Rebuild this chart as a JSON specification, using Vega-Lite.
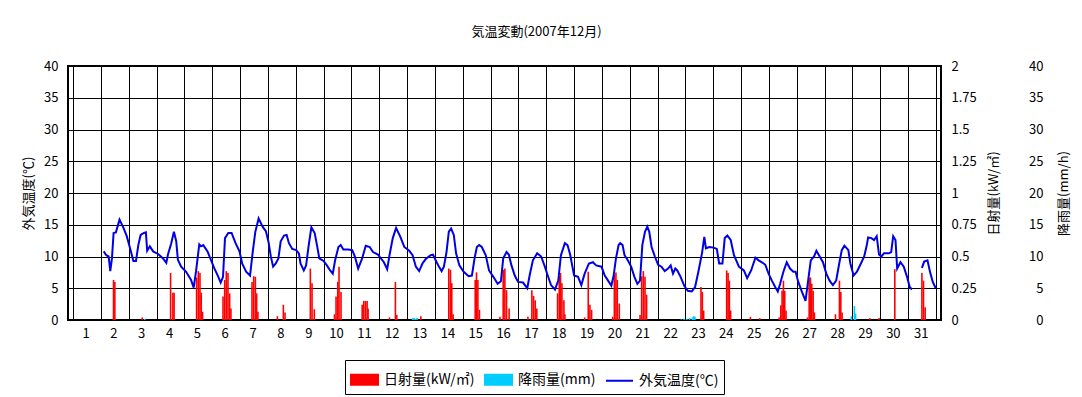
{
  "$schema": "https://vega.github.io/schema/vega-lite/v6.json",
  "width": 873,
  "height": 254,
  "autosize": "none",
  "padding": {"left": 68, "top": 66, "right": 141, "bottom": 77},
  "background": "white",
  "title": {"text": "気温変動(2007年12月)", "fontSize": 13, "fontWeight": "normal", "font": "Noto Sans CJK JP", "color": "black", "offset": 21, "dx": 32},
  "datasets": {
    "temp": [
      {"t":1.102,"T":10.8,"seg":1},{"t":1.197,"T":10.2,"seg":1},{"t":1.280,"T":10.0,"seg":1},{"t":1.339,"T":7.7,"seg":1},{"t":1.399,"T":9.7,"seg":1},{"t":1.458,"T":13.7,"seg":1},{"t":1.541,"T":13.8,"seg":1},{"t":1.671,"T":15.8,"seg":1},{"t":1.813,"T":14.5,"seg":1},{"t":1.931,"T":13.2,"seg":1},
      {"t":2.050,"T":11.3,"seg":1},{"t":2.168,"T":9.3,"seg":1},{"t":2.263,"T":9.3,"seg":1},{"t":2.346,"T":11.8,"seg":1},{"t":2.429,"T":13.4,"seg":1},{"t":2.547,"T":13.7,"seg":1},{"t":2.618,"T":13.8,"seg":1},{"t":2.665,"T":10.9,"seg":1},{"t":2.760,"T":11.6,"seg":1},{"t":2.879,"T":10.8,"seg":1},
      {"t":3.056,"T":10.4,"seg":1},{"t":3.234,"T":9.7,"seg":1},{"t":3.352,"T":9.0,"seg":1},{"t":3.411,"T":10.3,"seg":1},{"t":3.530,"T":12.1,"seg":1},{"t":3.625,"T":13.9,"seg":1},{"t":3.708,"T":12.4,"seg":1},{"t":3.767,"T":9.5,"seg":1},{"t":3.885,"T":8.4,"seg":1},
      {"t":4.063,"T":7.6,"seg":1},{"t":4.241,"T":6.3,"seg":1},{"t":4.335,"T":5.1,"seg":1},{"t":4.418,"T":7.6,"seg":1},{"t":4.536,"T":11.9,"seg":1},{"t":4.596,"T":11.6,"seg":1},{"t":4.679,"T":11.8,"seg":1},{"t":4.832,"T":10.8,"seg":1},{"t":4.951,"T":9.5,"seg":1},
      {"t":5.069,"T":8.2,"seg":1},{"t":5.188,"T":7.1,"seg":1},{"t":5.306,"T":5.9,"seg":1},{"t":5.389,"T":6.8,"seg":1},{"t":5.460,"T":12.9,"seg":1},{"t":5.578,"T":13.7,"seg":1},{"t":5.697,"T":13.7,"seg":1},{"t":5.839,"T":12.1,"seg":1},{"t":5.981,"T":10.8,"seg":1},
      {"t":6.076,"T":8.9,"seg":1},{"t":6.218,"T":7.6,"seg":1},{"t":6.360,"T":7.0,"seg":1},{"t":6.455,"T":10.7,"seg":1},{"t":6.550,"T":13.9,"seg":1},{"t":6.668,"T":16.0,"seg":1},{"t":6.810,"T":14.7,"seg":1},{"t":6.928,"T":14.0,"seg":1},
      {"t":7.023,"T":12.3,"seg":1},{"t":7.106,"T":10.0,"seg":1},{"t":7.189,"T":8.4,"seg":1},{"t":7.284,"T":8.9,"seg":1},{"t":7.378,"T":9.7,"seg":1},{"t":7.461,"T":12.4,"seg":1},{"t":7.580,"T":13.3,"seg":1},{"t":7.674,"T":13.4,"seg":1},{"t":7.757,"T":12.1,"seg":1},{"t":7.876,"T":11.2,"seg":1},
      {"t":8.018,"T":11.0,"seg":1},{"t":8.113,"T":10.5,"seg":1},{"t":8.172,"T":8.9,"seg":1},{"t":8.290,"T":7.8,"seg":1},{"t":8.373,"T":8.6,"seg":1},{"t":8.468,"T":11.8,"seg":1},{"t":8.562,"T":14.6,"seg":1},{"t":8.681,"T":13.7,"seg":1},{"t":8.764,"T":11.8,"seg":1},{"t":8.847,"T":9.7,"seg":1},
      {"t":9.001,"T":9.3,"seg":1},{"t":9.119,"T":8.6,"seg":1},{"t":9.237,"T":7.8,"seg":1},{"t":9.332,"T":7.3,"seg":1},{"t":9.415,"T":9.4,"seg":1},{"t":9.534,"T":11.5,"seg":1},{"t":9.616,"T":11.8,"seg":1},{"t":9.711,"T":11.1,"seg":1},{"t":9.889,"T":11.1,"seg":1},
      {"t":10.031,"T":11.0,"seg":1},{"t":10.125,"T":10.0,"seg":1},{"t":10.244,"T":8.1,"seg":1},{"t":10.386,"T":9.7,"seg":1},{"t":10.516,"T":11.7,"seg":1},{"t":10.658,"T":11.5,"seg":1},{"t":10.777,"T":10.7,"seg":1},{"t":10.955,"T":10.3,"seg":1},
      {"t":11.168,"T":9.1,"seg":1},{"t":11.286,"T":8.0,"seg":1},{"t":11.369,"T":10.2,"seg":1},{"t":11.487,"T":12.9,"seg":1},{"t":11.606,"T":14.5,"seg":1},{"t":11.759,"T":13.1,"seg":1},{"t":11.901,"T":11.5,"seg":1},
      {"t":12.079,"T":10.9,"seg":1},{"t":12.198,"T":10.2,"seg":1},{"t":12.316,"T":8.4,"seg":1},{"t":12.434,"T":7.7,"seg":1},{"t":12.553,"T":8.9,"seg":1},{"t":12.671,"T":9.6,"seg":1},{"t":12.849,"T":10.2,"seg":1},{"t":12.932,"T":10.3,"seg":1},
      {"t":13.027,"T":9.4,"seg":1},{"t":13.121,"T":8.6,"seg":1},{"t":13.240,"T":7.7,"seg":1},{"t":13.323,"T":8.4,"seg":1},{"t":13.417,"T":10.7,"seg":1},{"t":13.500,"T":13.9,"seg":1},{"t":13.583,"T":14.4,"seg":1},{"t":13.678,"T":13.4,"seg":1},{"t":13.761,"T":10.5,"seg":1},{"t":13.879,"T":8.6,"seg":1},
      {"t":14.033,"T":7.6,"seg":1},{"t":14.211,"T":6.9,"seg":1},{"t":14.329,"T":7.0,"seg":1},{"t":14.424,"T":9.7,"seg":1},{"t":14.507,"T":11.5,"seg":1},{"t":14.590,"T":11.8,"seg":1},{"t":14.685,"T":11.5,"seg":1},{"t":14.827,"T":10.2,"seg":1},{"t":14.945,"T":7.8,"seg":1},
      {"t":15.099,"T":6.8,"seg":1},{"t":15.253,"T":5.7,"seg":1},{"t":15.371,"T":6.1,"seg":1},{"t":15.454,"T":9.7,"seg":1},{"t":15.573,"T":10.7,"seg":1},{"t":15.655,"T":10.3,"seg":1},{"t":15.750,"T":8.6,"seg":1},{"t":15.869,"T":7.0,"seg":1},{"t":15.987,"T":6.0,"seg":1},
      {"t":16.165,"T":5.9,"seg":1},{"t":16.319,"T":5.0,"seg":1},{"t":16.402,"T":7.0,"seg":1},{"t":16.520,"T":9.4,"seg":1},{"t":16.674,"T":10.5,"seg":1},{"t":16.816,"T":10.0,"seg":1},{"t":16.934,"T":8.6,"seg":1},
      {"t":17.053,"T":7.0,"seg":1},{"t":17.171,"T":5.5,"seg":1},{"t":17.313,"T":4.8,"seg":1},{"t":17.432,"T":6.2,"seg":1},{"t":17.527,"T":10.2,"seg":1},{"t":17.669,"T":12.1,"seg":1},{"t":17.763,"T":11.8,"seg":1},{"t":17.858,"T":10.3,"seg":1},
      {"t":18.000,"T":7.0,"seg":1},{"t":18.142,"T":6.8,"seg":1},{"t":18.260,"T":5.5,"seg":1},{"t":18.379,"T":7.3,"seg":1},{"t":18.533,"T":8.9,"seg":1},{"t":18.675,"T":9.1,"seg":1},{"t":18.793,"T":8.6,"seg":1},{"t":18.983,"T":8.4,"seg":1},
      {"t":19.101,"T":7.0,"seg":1},{"t":19.220,"T":6.2,"seg":1},{"t":19.338,"T":5.4,"seg":1},{"t":19.421,"T":7.0,"seg":1},{"t":19.504,"T":9.7,"seg":1},{"t":19.599,"T":11.8,"seg":1},{"t":19.658,"T":12.1,"seg":1},{"t":19.741,"T":11.8,"seg":1},{"t":19.812,"T":10.2,"seg":1},{"t":19.930,"T":9.4,"seg":1},
      {"t":20.049,"T":8.4,"seg":1},{"t":20.167,"T":6.8,"seg":1},{"t":20.273,"T":5.7,"seg":1},{"t":20.368,"T":6.2,"seg":1},{"t":20.451,"T":11.8,"seg":1},{"t":20.546,"T":13.9,"seg":1},{"t":20.629,"T":14.7,"seg":1},{"t":20.700,"T":13.9,"seg":1},{"t":20.783,"T":11.5,"seg":1},{"t":20.901,"T":10.0,"seg":1},
      {"t":21.020,"T":8.7,"seg":1},{"t":21.138,"T":8.4,"seg":1},{"t":21.256,"T":7.7,"seg":1},{"t":21.375,"T":8.1,"seg":1},{"t":21.470,"T":8.6,"seg":1},{"t":21.552,"T":7.3,"seg":1},{"t":21.635,"T":8.1,"seg":1},{"t":21.706,"T":7.8,"seg":1},{"t":21.825,"T":6.8,"seg":1},{"t":21.967,"T":5.3,"seg":1},
      {"t":22.085,"T":4.6,"seg":1},{"t":22.227,"T":4.5,"seg":1},{"t":22.346,"T":5.2,"seg":1},{"t":22.464,"T":7.6,"seg":1},{"t":22.594,"T":10.5,"seg":1},{"t":22.677,"T":13.1,"seg":1},{"t":22.736,"T":11.3,"seg":1},{"t":22.855,"T":11.5,"seg":1},
      {"t":23.009,"T":11.4,"seg":1},{"t":23.127,"T":11.2,"seg":1},{"t":23.210,"T":8.9,"seg":1},{"t":23.329,"T":8.9,"seg":1},{"t":23.411,"T":12.9,"seg":1},{"t":23.506,"T":13.3,"seg":1},{"t":23.625,"T":12.6,"seg":1},{"t":23.743,"T":10.2,"seg":1},{"t":23.921,"T":8.4,"seg":1},
      {"t":24.098,"T":7.8,"seg":1},{"t":24.217,"T":6.6,"seg":1},{"t":24.359,"T":7.8,"seg":1},{"t":24.513,"T":9.8,"seg":1},{"t":24.631,"T":9.4,"seg":1},{"t":24.809,"T":8.9,"seg":1},{"t":24.868,"T":8.7,"seg":1},{"t":24.986,"T":7.3,"seg":1},
      {"t":25.105,"T":6.2,"seg":1},{"t":25.223,"T":5.2,"seg":1},{"t":25.318,"T":4.5,"seg":1},{"t":25.401,"T":5.7,"seg":1},{"t":25.519,"T":7.6,"seg":1},{"t":25.638,"T":9.1,"seg":1},{"t":25.756,"T":8.1,"seg":1},{"t":25.875,"T":7.6,"seg":1},{"t":25.957,"T":7.6,"seg":1},
      {"t":26.052,"T":6.0,"seg":1},{"t":26.171,"T":4.6,"seg":1},{"t":26.313,"T":3.0,"seg":1},{"t":26.407,"T":6.2,"seg":1},{"t":26.502,"T":9.4,"seg":1},{"t":26.620,"T":10.0,"seg":1},{"t":26.703,"T":10.9,"seg":1},{"t":26.822,"T":10.0,"seg":1},{"t":26.940,"T":9.1,"seg":1},
      {"t":27.059,"T":7.3,"seg":1},{"t":27.177,"T":6.2,"seg":1},{"t":27.296,"T":5.5,"seg":1},{"t":27.414,"T":6.2,"seg":1},{"t":27.532,"T":9.1,"seg":1},{"t":27.615,"T":11.0,"seg":1},{"t":27.710,"T":11.7,"seg":1},{"t":27.852,"T":11.0,"seg":1},{"t":27.923,"T":8.9,"seg":1},
      {"t":28.041,"T":7.0,"seg":1},{"t":28.160,"T":7.6,"seg":1},{"t":28.302,"T":8.9,"seg":1},{"t":28.420,"T":10.0,"seg":1},{"t":28.515,"T":11.8,"seg":1},{"t":28.562,"T":13.0,"seg":1},{"t":28.681,"T":12.9,"seg":1},{"t":28.775,"T":12.6,"seg":1},{"t":28.870,"T":13.2,"seg":1},{"t":28.953,"T":10.3,"seg":1},
      {"t":29.036,"T":10.0,"seg":1},{"t":29.131,"T":10.5,"seg":1},{"t":29.308,"T":10.5,"seg":1},{"t":29.391,"T":10.7,"seg":1},{"t":29.462,"T":13.2,"seg":1},{"t":29.545,"T":12.6,"seg":1},{"t":29.605,"T":8.1,"seg":1},{"t":29.723,"T":9.1,"seg":1},{"t":29.842,"T":8.4,"seg":1},{"t":29.960,"T":6.8,"seg":1},
      {"t":30.054,"T":5.2,"seg":1},{"t":30.138,"T":4.8,"seg":1},
      {"t":30.493,"T":8.2,"seg":2},{"t":30.576,"T":9.2,"seg":2},{"t":30.694,"T":9.4,"seg":2},{"t":30.789,"T":7.5,"seg":2},{"t":30.884,"T":6.0,"seg":2},{"t":30.991,"T":5.0,"seg":2}
    ],
    "solar": [
      {"t":1.456,"s":0.315},{"t":1.503,"s":0.30},{"t":2.487,"s":0.02},
      {"t":3.506,"s":0.37},{"t":3.588,"s":0.215},{"t":3.631,"s":0.215},
      {"t":4.440,"s":0.335},{"t":4.501,"s":0.385},{"t":4.561,"s":0.37},{"t":4.607,"s":0.215},{"t":4.654,"s":0.065},
      {"t":5.389,"s":0.185},{"t":5.449,"s":0.315},{"t":5.506,"s":0.385},{"t":5.567,"s":0.37},{"t":5.627,"s":0.21},{"t":5.673,"s":0.09},
      {"t":6.430,"s":0.30},{"t":6.490,"s":0.345},{"t":6.551,"s":0.34},{"t":6.597,"s":0.21},{"t":6.643,"s":0.065},
      {"t":7.343,"s":0.03},{"t":7.556,"s":0.12},{"t":7.616,"s":0.06},
      {"t":8.526,"s":0.405},{"t":8.586,"s":0.29},{"t":8.668,"s":0.085},
      {"t":9.393,"s":0.045},{"t":9.449,"s":0.185},{"t":9.510,"s":0.30},{"t":9.556,"s":0.42},{"t":9.627,"s":0.22},
      {"t":10.387,"s":0.12},{"t":10.444,"s":0.15},{"t":10.504,"s":0.15},{"t":10.565,"s":0.15},{"t":10.600,"s":0.09},
      {"t":11.368,"s":0.02},{"t":11.581,"s":0.30},{"t":11.631,"s":0.04},
      {"t":12.494,"s":0.03},
      {"t":13.499,"s":0.405},{"t":13.560,"s":0.395},{"t":13.606,"s":0.29},{"t":13.655,"s":0.045},
      {"t":14.448,"s":0.315},{"t":14.494,"s":0.375},{"t":14.544,"s":0.315},{"t":14.600,"s":0.08},
      {"t":15.336,"s":0.025},{"t":15.453,"s":0.395},{"t":15.513,"s":0.405},{"t":15.574,"s":0.235},{"t":15.666,"s":0.09},
      {"t":16.341,"s":0.025},{"t":16.483,"s":0.235},{"t":16.543,"s":0.19},{"t":16.604,"s":0.155},{"t":16.661,"s":0.09},
      {"t":17.407,"s":0.21},{"t":17.467,"s":0.345},{"t":17.513,"s":0.37},{"t":17.563,"s":0.29},{"t":17.634,"s":0.155},{"t":17.670,"s":0.045},
      {"t":18.380,"s":0.02},{"t":18.508,"s":0.38},{"t":18.568,"s":0.12},{"t":18.629,"s":0.08},
      {"t":19.385,"s":0.025},{"t":19.446,"s":0.355},{"t":19.503,"s":0.375},{"t":19.552,"s":0.315},{"t":19.623,"s":0.13},
      {"t":20.369,"s":0.04},{"t":20.426,"s":0.345},{"t":20.487,"s":0.385},{"t":20.547,"s":0.34},{"t":20.604,"s":0.20},
      {"t":22.558,"s":0.26},{"t":22.607,"s":0.22},{"t":22.654,"s":0.075},
      {"t":23.481,"s":0.39},{"t":23.531,"s":0.37},{"t":23.577,"s":0.31},{"t":23.623,"s":0.075},
      {"t":24.334,"s":0.025},{"t":24.668,"s":0.015},
      {"t":25.364,"s":0.02},{"t":25.425,"s":0.115},{"t":25.471,"s":0.23},{"t":25.520,"s":0.31},{"t":25.567,"s":0.23},{"t":25.613,"s":0.075},
      {"t":26.384,"s":0.02},{"t":26.444,"s":0.33},{"t":26.491,"s":0.335},{"t":26.537,"s":0.285},{"t":26.587,"s":0.23},{"t":26.632,"s":0.06},
      {"t":27.389,"s":0.045},{"t":27.531,"s":0.31},{"t":27.581,"s":0.22},{"t":27.627,"s":0.06},
      {"t":28.622,"s":0.015},{"t":28.952,"s":0.015},
      {"t":29.520,"s":0.40},
      {"t":30.494,"s":0.37},{"t":30.551,"s":0.31},{"t":30.611,"s":0.10}
    ],
    "rain": [
      {"t":2.58,"r":0.2},
      {"t":12.20,"r":0.3},{"t":12.25,"r":0.3},{"t":12.30,"r":0.2},{"t":12.36,"r":0.3},
      {"t":21.85,"r":0.1},{"t":21.95,"r":0.2},{"t":22.05,"r":0.2},{"t":22.15,"r":0.3},{"t":22.25,"r":0.4},{"t":22.30,"r":0.6},{"t":22.34,"r":0.5},
      {"t":27.96,"r":0.6},{"t":28.07,"r":2.2},{"t":28.11,"r":1.0}
    ]
  },
  "layer": [
    {
      "data": {"name": "solar"},
      "mark": {"type": "bar", "orient": "vertical", "size": 1.6},
      "encoding": {
        "x": {
          "field": "t", "type": "quantitative",
          "scale": {"domain": [0, 31], "nice": false, "zero": false},
          "axis": {
            "orient": "top", "title": null,
            "values": [0,1,2,3,4,5,6,7,8,9,10,11,12,13,14,15,16,17,18,19,20,21,22,23,24,25,26,27,28,29,30,31],
            "labels": false, "ticks": false, "domain": false,
            "grid": true, "gridColor": "black", "gridOpacity": 1, "gridWidth": 1
          }
        },
        "y": {
          "field": "s", "type": "quantitative",
          "scale": {"domain": [0, 2], "nice": false},
          "axis": {
            "orient": "right",
            "values": [0,0.25,0.5,0.75,1,1.25,1.5,1.75,2],
            "labelExpr": "'' + datum.value",
            "grid": false, "ticks": false, "domain": false,
            "labelPadding": 10,
            "title": "日射量(kW/㎡)",
            "titleAngle": 270,
            "titleBaseline": "middle",
            "titleX": 52,
            "titleY": 127
          }
        },
        "color": {
          "datum": "日射量(kW/㎡)", "type": "nominal",
          "scale": {"domain": ["日射量(kW/㎡)", "降雨量(mm)", "外気温度(℃)"], "range": ["#ff0000", "#00ccff", "#0000e6"]},
          "legend": {
            "orient": "none", "legendX": 277, "legendY": 294,
            "direction": "horizontal", "title": null,
            "strokeColor": "black", "fillColor": "white", "padding": 5,
            "labelFontSize": 14, "labelFont": "Noto Sans CJK JP", "labelColor": "black",
            "symbolSize": 729, "symbolType": "M-1,-0.37H1V0.37H-1Z",
            "columnPadding": 6, "labelOffset": 5,
            "encode": {
              "symbols": {
                "update": {
                  "shape": {"signal": "datum.value === '外気温度(℃)' ? 'M-1,0H1' : 'M-1,-0.37H1V0.37H-1Z'"},
                  "fill": {"signal": "datum.value === '外気温度(℃)' ? 'transparent' : scale('color', datum.value)"},
                  "stroke": {"signal": "datum.value === '外気温度(℃)' ? scale('color', datum.value) : 'transparent'"},
                  "strokeWidth": {"value": 2},
                  "opacity": {"value": 1}
                }
              }
            }
          }
        }
      }
    },
    {
      "data": {"name": "rain"},
      "mark": {"type": "bar", "orient": "vertical", "size": 1.6},
      "encoding": {
        "x": {
          "field": "t", "type": "quantitative",
          "scale": {"domain": [0, 31], "nice": false, "zero": false},
          "axis": null
        },
        "y": {
          "field": "r", "type": "quantitative",
          "scale": {"domain": [0, 40], "nice": false},
          "axis": {
            "orient": "right", "offset": 90,
            "values": [0,5,10,15,20,25,30,35,40],
            "grid": false, "ticks": false, "domain": false,
            "labelAlign": "right",
            "labelPadding": 12,
            "title": "降雨量(mm/h)",
            "titleAngle": 270,
            "titleBaseline": "middle",
            "titleX": 32,
            "titleY": 127
          }
        },
        "color": {"datum": "降雨量(mm)", "type": "nominal"}
      }
    },
    {
      "data": {"name": "temp"},
      "mark": {"type": "line", "strokeWidth": 2},
      "encoding": {
        "x": {
          "field": "t", "type": "quantitative",
          "scale": {"domain": [0, 31], "nice": false, "zero": false},
          "axis": {
            "orient": "bottom", "title": null,
            "values": [0.45,1.45,2.45,3.45,4.45,5.45,6.45,7.45,8.45,9.45,10.45,11.45,12.45,13.45,14.45,15.45,16.45,17.45,18.45,19.45,20.45,21.45,22.45,23.45,24.45,25.45,26.45,27.45,28.45,29.45,30.45],
            "labelExpr": "'' + floor(datum.value + 1)",
            "labelPadding": 7,
            "labelOverlap": false,
            "labelFlush": false,
            "ticks": false,
            "domain": false,
            "grid": false
          }
        },
        "y": {
          "field": "T", "type": "quantitative",
          "scale": {"domain": [0, 40], "nice": false},
          "axis": {
            "orient": "left",
            "values": [0,5,10,15,20,25,30,35,40],
            "grid": true, "gridColor": "black", "gridOpacity": 1, "gridWidth": 1,
            "ticks": false, "domain": false,
            "labelPadding": 10,
            "title": "外気温度(℃)",
            "titleAngle": 270,
            "titleBaseline": "middle",
            "titleX": -40,
            "titleY": 127
          }
        },
        "detail": {"field": "seg", "type": "nominal"},
        "color": {"datum": "外気温度(℃)", "type": "nominal"}
      }
    }
  ],
  "resolve": {"scale": {"y": "independent"}, "axis": {"y": "independent", "x": "independent"}},
  "config": {
    "font": "Noto Sans CJK JP",
    "view": {"stroke": "black", "strokeWidth": 2},
    "axis": {
      "labelFont": "Noto Sans CJK JP", "titleFont": "Noto Sans CJK JP",
      "labelFontSize": 13, "titleFontSize": 13,
      "labelColor": "black", "titleColor": "black",
      "titleFontWeight": "normal"
    }
  }
}
